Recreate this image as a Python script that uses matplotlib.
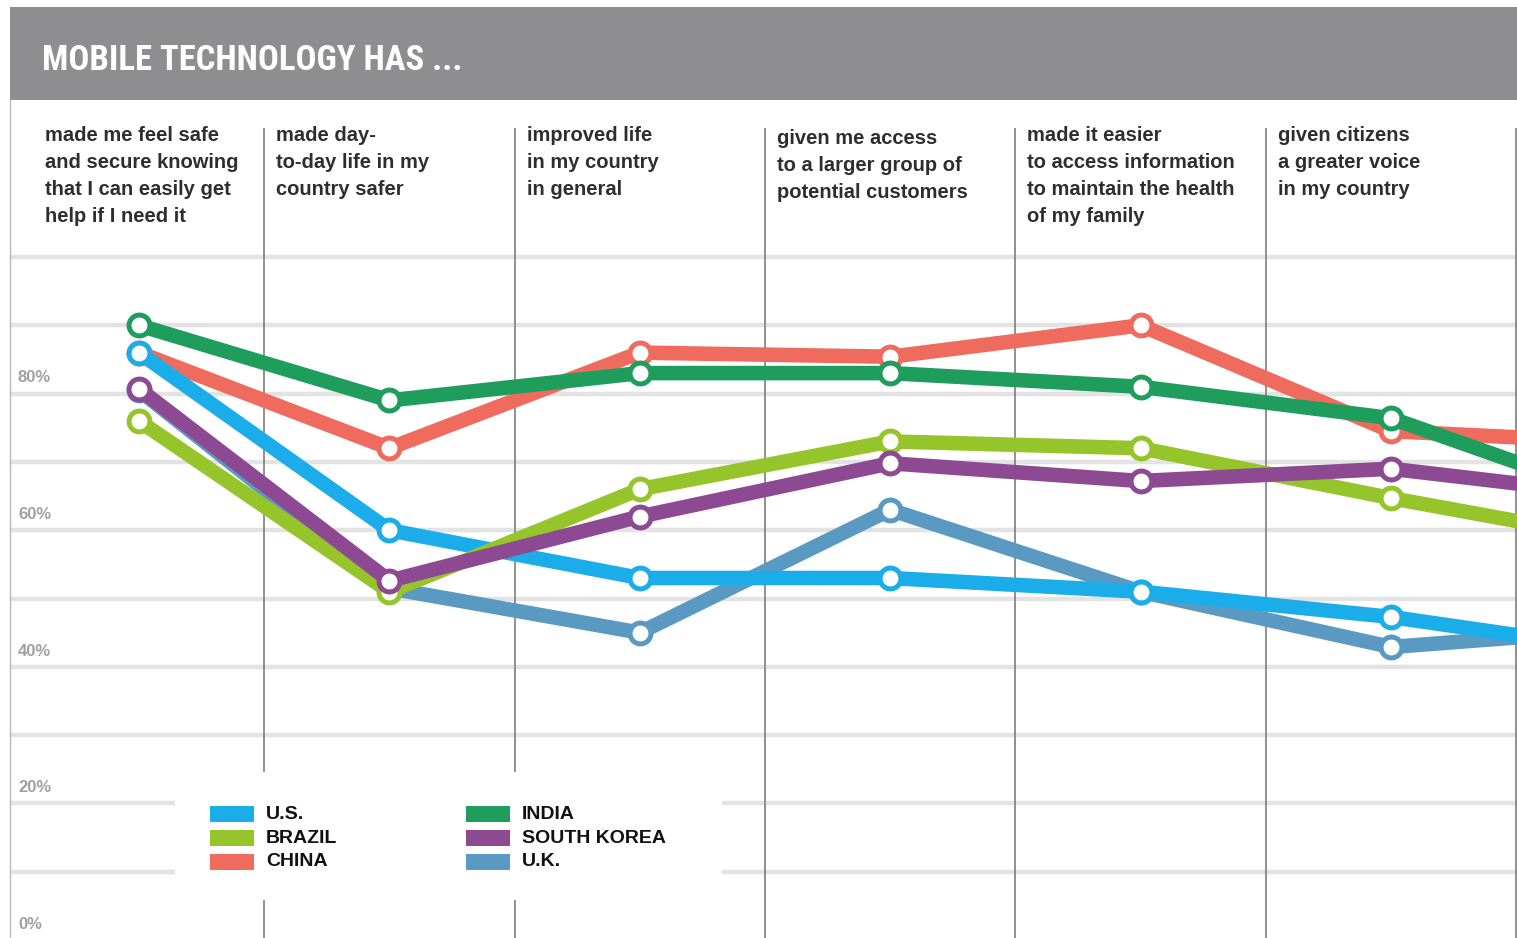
import matplotlib
matplotlib.use("Agg")
import matplotlib.pyplot as plt
from matplotlib.patches import Rectangle
from matplotlib import font_manager
import numpy as np

# column headers (one per survey statement)
questions = [
    "made me feel safe\nand secure knowing\nthat I can easily get\nhelp if I need it",
    "made day-\nto-day life in my\ncountry safer",
    "improved life\nin my country\nin general",
    "given me access\nto a larger group of\npotential customers",
    "made it easier\nto access information\nto maintain the health\nof my family",
    "given citizens\na greater voice\nin my country",
]
countries = ["U.S.", "BRAZIL", "CHINA", "INDIA", "SOUTH KOREA", "U.K."]
colors = ["#1badea", "#95c52a", "#ef6b5e", "#1f9d5c", "#8d4a92", "#5a9ac2"]

# % agreeing (7th point is cut off at the right edge)
us = [86, 60, 53, 53, 51, 47.3, 42]
brazil = [76, 51, 66, 73, 72, 64.7, 58]
china = [86, 72, 86, 85.4, 90, 74.5, 72.7]
india = [90, 79, 83, 83, 81, 76.4, 63.5]
south_korea = [80.7, 52.6, 62, 69.8, 67.2, 69, 64.7]
uk = [80.5, 51.5, 45, 63, 51, 42.9, 45.7]
series = [us, brazil, china, india, south_korea, uk]
draw_order = ["U.K.", "CHINA", "U.S.", "BRAZIL", "SOUTH KOREA", "INDIA"]
yticks = [0, 20, 40, 60, 80]
title = "MOBILE TECHNOLOGY HAS ..."

W, H = 1517, 938
fig = plt.figure(figsize=(W / 100, H / 100), dpi=100)


def fx(px):
    return px / W


def fy(py):
    return 1 - py / H


def find(family, **kw):
    try:
        return font_manager.findfont(
            font_manager.FontProperties(family=family, **kw), fallback_to_default=False)
    except ValueError:
        return None


body_font = "Liberation Sans" if find("Liberation Sans") else "DejaVu Sans"

# look for some condensed face for the banner title
title_font, title_stretch = body_font, "normal"
for fam in ["Roboto Condensed", "Liberation Sans Narrow", "Noto Sans Condensed",
            "Open Sans Condensed", "DejaVu Sans Condensed"]:
    if find(fam, weight="bold"):
        title_font = fam
        break
else:
    for fam in ["Noto Sans", "Roboto", "Open Sans", "DejaVu Sans"]:
        p = find(fam, stretch="condensed", weight="bold")
        if p and ("Condensed" in p or "Narrow" in p):
            title_font, title_stretch = fam, "condensed"
            break

# pixel geometry of the plot area
x0, dx = 139, 250.4     # px of first column, px per column
y0, dy = 940, 6.83      # px of 0 %, px per percent


def vx(px):
    return (px - x0) / dx


def vy(py):
    return (y0 - py) / dy


ax = fig.add_axes([fx(10), 0, fx(1517) - fx(10), fy(100)])
ax.set_xlim(vx(10), vx(1517))
ax.set_ylim(vy(938), vy(100))
ax.set_xticks([])
ax.set_yticks([])
for s in ["top", "right", "bottom"]:
    ax.spines[s].set_visible(False)
ax.spines["left"].set_color("#b8b8b8")
ax.spines["left"].set_linewidth(1)

# grid + column dividers
ax.hlines(np.arange(10, 101, 10), vx(10), vx(1517), color="#e3e3e3", lw=3.2, zorder=1)
ax.vlines(np.arange(6) + 0.5, vy(938), vy(128), color="#7d7d7d", lw=1.2, zorder=1.2)
ax.add_patch(Rectangle((vx(175), vy(900)), vx(722) - vx(175), vy(772) - vy(900),
                       fc="white", ec="none", zorder=1.5))

for v in yticks:
    ax.text(vx(18), v + 1.2, f"{v}%", ha="left", va="bottom", color="#a0a0a0",
            fontsize=12, weight="bold", family=body_font, zorder=3)

x = np.arange(len(us))
for name in draw_order:
    k = countries.index(name)
    ax.plot(x, series[k], color=colors[k], lw=10.5, solid_joinstyle="round",
            marker="o", ms=15, mew=3.6, mfc="white", mec=colors[k], zorder=5)

# column headers, one text per line so the 27px leading is exact
for i, q in enumerate(questions):
    xpos = vx(45) if i == 0 else i - 0.5 + 12 / dx
    top = 141 + (3 if i == 3 else 0)
    for j, line in enumerate(q.split("\n")):
        ax.text(xpos, vy(top + 27 * j), line, ha="left", va="baseline",
                color="#2e2e2e", fontsize=14.5, weight="bold", family=body_font)

# title banner
fig.add_artist(Rectangle((fx(10), fy(100)), fx(1517) - fx(10), fy(7) - fy(100),
                         transform=fig.transFigure, fc="#8e8e91", ec="none"))
t = fig.text(fx(42), fy(70), title, color="white", fontsize=30, weight="bold",
             family=title_font, stretch=title_stretch, va="baseline", ha="left")
bb = t.get_window_extent(fig.canvas.get_renderer())
if bb.width > 420:
    t.set_fontsize(30 * 420 / bb.width)

# legend
for k, name in enumerate(countries):
    c, r = divmod(k, 3)
    px = 210 + 256 * c
    py = 814 + 24 * r
    fig.add_artist(Rectangle((fx(px), fy(py + 8)), fx(44), 16 / H,
                             transform=fig.transFigure, fc=colors[k], ec="none"))
    fig.text(fx(px + 56), fy(py), name, ha="left", va="center", color="#111111",
             fontsize=14, weight="bold", family=body_font)

fig.savefig("out.png", dpi=100, facecolor="white")
